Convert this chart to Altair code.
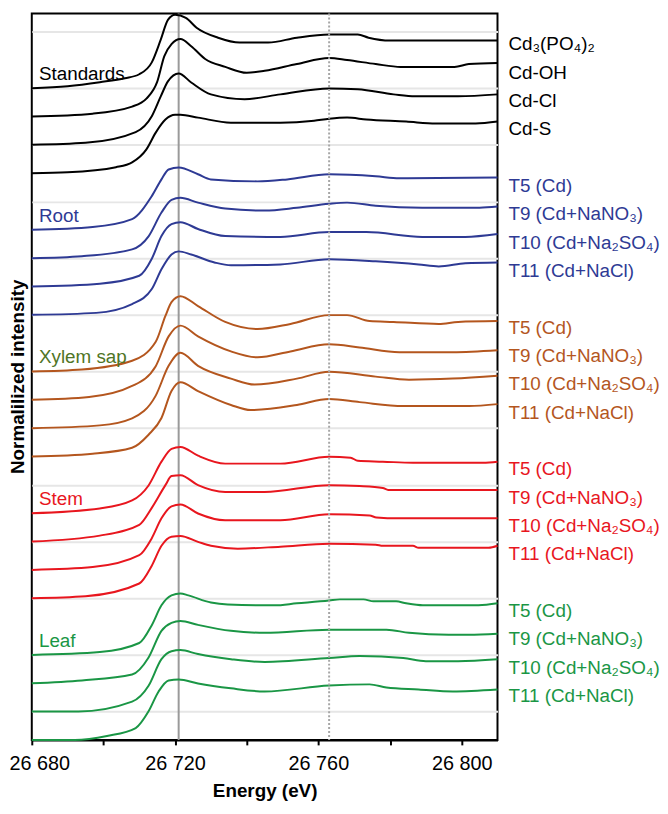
import altair as alt
import pandas as pd

FONT = "Liberation Sans, Arial, DejaVu Sans, sans-serif"

groups = ["Standards", "Root", "Xylem sap", "Stem", "Leaf"]
group_colors = ["#000000", "#2e3a94", "#b4561e", "#e8161e", "#1a9645"]
group_label_colors = ["#000000", "#2e3a94", "#4f7526", "#e8161e", "#1a9645"]

# ---- Standards ----
po4_e = [26680, 26690, 26699, 26706, 26710, 26713.5, 26716, 26718, 26720, 26723, 26726, 26732, 26738, 26746, 26754, 26763, 26771, 26774, 26780, 26810]
po4_v = [0, 0.07, 0.21, 0.35, 0.49, 0.91, 1.71, 2.41, 2.59, 2.48, 2.13, 1.78, 1.61, 1.61, 1.78, 1.89, 1.89, 1.78, 1.68, 1.68]
oh_e = [26680, 26697, 26708, 26712, 26715, 26717, 26719, 26721.5, 26724.5, 26728.4, 26734, 26740, 26745, 26754, 26763, 26768, 26776, 26783, 26798, 26802, 26810]
oh_v = [0, 0.10, 0.35, 0.63, 1.22, 2.13, 2.55, 2.73, 2.48, 2.03, 1.75, 1.54, 1.61, 1.85, 2.06, 1.99, 1.85, 1.75, 1.75, 1.85, 1.89]
cl_e = [26680, 26695, 26709, 26713.5, 26716, 26718, 26721, 26724.5, 26730, 26739.4, 26749.4, 26763, 26771, 26781, 26787, 26799, 26810]
cl_v = [0, 0.07, 0.45, 1.01, 1.71, 2.24, 2.52, 2.20, 1.78, 1.61, 1.78, 1.99, 1.96, 1.78, 1.71, 1.71, 1.78]
s_e = [26680, 26690, 26703.5, 26708, 26712, 26714.6, 26717.3, 26720, 26721.5, 26726.4, 26735.6, 26749.4, 26758.8, 26763, 26768, 26773.4, 26784.5, 26792.8, 26803.9, 26810]
s_v = [0, 0.03, 0.21, 0.38, 0.84, 1.43, 1.89, 2.06, 2.06, 1.96, 1.78, 1.78, 1.85, 1.92, 1.96, 1.89, 1.82, 1.75, 1.75, 1.82]

# ---- Root ----
root5_e = [26680, 26697, 26708, 26713.5, 26716.2, 26718.2, 26721, 26726.4, 26730, 26743, 26751.3, 26763, 26776, 26782.6, 26810]
root5_v = [0, 0.10, 0.38, 1.19, 1.78, 2.13, 2.20, 1.96, 1.78, 1.71, 1.78, 1.96, 1.89, 1.82, 1.85]
root9_e = [26680, 26694, 26708, 26712.6, 26716.2, 26719, 26721.5, 26726.4, 26734, 26745, 26754, 26763, 26768, 26776, 26789, 26805, 26810]
root9_v = [0, 0.07, 0.31, 0.77, 1.61, 2.06, 2.13, 1.96, 1.75, 1.68, 1.78, 1.92, 1.96, 1.85, 1.78, 1.78, 1.82]
root10_e = [26680, 26699, 26710, 26713.5, 26716.2, 26719, 26721.5, 26726.4, 26734, 26749.4, 26763, 26773.4, 26789, 26801, 26810]
root10_v = [0, 0.10, 0.38, 0.98, 1.78, 2.20, 2.27, 2.03, 1.78, 1.75, 1.92, 1.92, 1.75, 1.75, 1.85]
root11_e = [26680, 26698, 26708, 26713.5, 26716.2, 26719, 26721, 26724.5, 26731, 26735.6, 26749.4, 26763, 26776, 26788, 26793.6, 26801, 26810]
root11_v = [0, 0.07, 0.38, 0.91, 1.61, 2.13, 2.24, 2.13, 1.85, 1.75, 1.78, 1.96, 1.89, 1.78, 1.71, 1.82, 1.85]

# ---- Xylem sap ----
xyl5_e = [26680, 26694, 26708, 26714.6, 26717.3, 26719, 26721.5, 26726.4, 26734, 26743, 26752.2, 26763, 26768, 26774.3, 26781, 26793.6, 26799, 26810]
xyl5_v = [0, 0.07, 0.38, 1.05, 1.96, 2.45, 2.66, 2.31, 1.75, 1.50, 1.68, 1.99, 1.99, 1.78, 1.75, 1.68, 1.75, 1.78]
xyl9_e = [26680, 26696, 26708, 26714.6, 26718.2, 26721.5, 26726.4, 26735.6, 26743, 26752.2, 26763, 26771.5, 26782.6, 26797.5, 26810]
xyl9_v = [0, 0.10, 0.49, 1.19, 2.24, 2.62, 2.24, 1.71, 1.50, 1.71, 1.96, 1.85, 1.68, 1.68, 1.75]
xyl10_e = [26680, 26699, 26708, 26714.6, 26718.2, 26721.5, 26726.4, 26735.6, 26742.2, 26754, 26763, 26776, 26785.3, 26797.5, 26810]
xyl10_v = [0, 0.10, 0.35, 1.15, 2.20, 2.66, 2.20, 1.75, 1.54, 1.75, 1.99, 1.82, 1.71, 1.75, 1.85]
xyl11_e = [26680, 26697, 26708, 26712.6, 26716.2, 26719, 26721.5, 26726.4, 26735.6, 26741.1, 26754, 26763, 26771.5, 26783.7, 26802, 26810]
xyl11_v = [0, 0.10, 0.31, 0.77, 1.36, 2.31, 2.62, 2.31, 1.82, 1.64, 1.82, 2.03, 1.92, 1.78, 1.78, 1.85]

# ---- Stem ----
stem5_e = [26680, 26699, 26708, 26712.6, 26716.2, 26719, 26721.5, 26726.4, 26734, 26749.4, 26763, 26769, 26771, 26778, 26786.4, 26806, 26810]
stem5_v = [0, 0.17, 0.45, 0.98, 1.82, 2.27, 2.34, 2.03, 1.75, 1.75, 1.99, 1.96, 1.85, 1.82, 1.78, 1.78, 1.82]
stem9_e = [26680, 26699, 26710, 26713.5, 26717.3, 26719, 26721.5, 26726.4, 26734, 26745, 26763, 26771.5, 26778, 26779.5, 26810]
stem9_v = [0, 0.21, 0.59, 1.19, 1.99, 2.31, 2.34, 1.99, 1.75, 1.75, 1.99, 1.96, 1.89, 1.82, 1.82]
stem10_e = [26680, 26697, 26710, 26713.5, 26716.2, 26719, 26721.5, 26726.4, 26734, 26749.4, 26763, 26774.3, 26776.2, 26782.3, 26810]
stem10_v = [0, 0.10, 0.52, 1.12, 1.82, 2.24, 2.31, 1.99, 1.75, 1.75, 1.96, 1.92, 1.85, 1.82, 1.82]
stem11_e = [26680, 26695, 26710, 26713.5, 26716.2, 26719, 26721.5, 26726.4, 26730, 26737.5, 26749.4, 26763, 26776, 26778, 26786.4, 26788, 26807.5, 26810]
stem11_v = [0, 0.07, 0.52, 1.15, 1.85, 2.17, 2.20, 1.99, 1.85, 1.75, 1.82, 1.92, 1.89, 1.85, 1.85, 1.78, 1.78, 1.85]

# ---- Leaf ----
leaf5_e = [26680, 26699, 26710, 26713.5, 26716.2, 26719, 26721.5, 26723.7, 26730, 26734.7, 26747.7, 26754, 26763, 26766, 26772.6, 26775.4, 26781.7, 26784.5, 26789.2, 26804.7, 26810]
leaf5_v = [0, 0.10, 0.42, 1.05, 1.75, 2.10, 2.17, 2.10, 1.85, 1.78, 1.75, 1.82, 1.92, 1.96, 1.96, 1.89, 1.89, 1.82, 1.75, 1.75, 1.82]
leaf9_e = [26680, 26694, 26708, 26712.6, 26716.2, 26719, 26721.5, 26726.4, 26735.6, 26745, 26763, 26779, 26785.3, 26796.4, 26802, 26810]
leaf9_v = [0, 0.10, 0.31, 0.91, 1.85, 2.13, 2.20, 2.06, 1.85, 1.78, 1.89, 1.89, 1.78, 1.71, 1.71, 1.75]
leaf10_e = [26680, 26693, 26708, 26712.6, 26716.2, 26719, 26721.5, 26726.4, 26735.6, 26745, 26763, 26771.5, 26783.7, 26790, 26799, 26810]
leaf10_v = [0, 0, 0.35, 0.91, 1.85, 2.13, 2.17, 2.03, 1.85, 1.75, 1.89, 1.96, 1.89, 1.78, 1.78, 1.85]
leaf11_e = [26680, 26692, 26701, 26709, 26712.6, 26715.4, 26718.2, 26721, 26726.4, 26735.6, 26745, 26763, 26774.3, 26779, 26788, 26797.5, 26810]
leaf11_v = [0, 0, 0.14, 0.42, 1.01, 1.71, 2.10, 2.13, 1.99, 1.82, 1.71, 1.92, 1.96, 1.85, 1.78, 1.71, 1.78]

sample_names = ["T5 (Cd)", "T9 (Cd+NaNO\u2083)", "T10 (Cd+Na\u2082SO\u2084)", "T11 (Cd+NaCl)"]
standard_names = ["Cd\u2083(PO\u2084)\u2082", "Cd-OH", "Cd-Cl", "Cd-S"]

curves = [
    ("Standards", standard_names[0], po4_e, po4_v),
    ("Standards", standard_names[1], oh_e, oh_v),
    ("Standards", standard_names[2], cl_e, cl_v),
    ("Standards", standard_names[3], s_e, s_v),
    ("Root", sample_names[0], root5_e, root5_v),
    ("Root", sample_names[1], root9_e, root9_v),
    ("Root", sample_names[2], root10_e, root10_v),
    ("Root", sample_names[3], root11_e, root11_v),
    ("Xylem sap", sample_names[0], xyl5_e, xyl5_v),
    ("Xylem sap", sample_names[1], xyl9_e, xyl9_v),
    ("Xylem sap", sample_names[2], xyl10_e, xyl10_v),
    ("Xylem sap", sample_names[3], xyl11_e, xyl11_v),
    ("Stem", sample_names[0], stem5_e, stem5_v),
    ("Stem", sample_names[1], stem9_e, stem9_v),
    ("Stem", sample_names[2], stem10_e, stem10_v),
    ("Stem", sample_names[3], stem11_e, stem11_v),
    ("Leaf", sample_names[0], leaf5_e, leaf5_v),
    ("Leaf", sample_names[1], leaf9_e, leaf9_v),
    ("Leaf", sample_names[2], leaf10_e, leaf10_v),
    ("Leaf", sample_names[3], leaf11_e, leaf11_v),
]

rows, labels, glabels = [], [], []
for k, (g, name, e, v) in enumerate(curves):
    gi = groups.index(g)
    i = k - 4 * gi
    off = (4 - gi) * 5 + (3 - i)
    for ee, vv in zip(e, v):
        rows.append({"energy": ee, "intensity": vv + off, "curve": f"{g}|{name}", "col": group_colors[gi]})
    labels.append({"energy": 26810, "y": off + 1.55, "text": name, "col": group_colors[gi]})
for gi, g in enumerate(groups):
    glabels.append({"energy": 26682, "y": (4 - gi) * 5 + 3.5, "text": g, "col": group_label_colors[gi]})

df = pd.DataFrame(rows)
lab_df = pd.DataFrame(labels)
glab_df = pd.DataFrame(glabels)

x_scale = alt.Scale(domain=[26680, 26810], nice=False, zero=False)
y_scale = alt.Scale(domain=[0, 25.63], nice=False, zero=False)

x_axis = alt.Axis(
    values=list(range(26680, 26811, 20)),
    labelExpr="datum.value % 40 == 0 ? replace(format(datum.value, ','), ',', ' ') : ''",
    labelFont=FONT, labelFontSize=20, labelColor="black", labelOverlap=False,
    labelFlush=False, labelPadding=9,
    labelAlign={"condition": {"test": "datum.value == 26680", "value": "left"}, "value": "center"},
    labelOffset={"condition": {"test": "datum.value == 26680", "value": -23}, "value": 0},
    tickSize=5, tickWidth=2, tickColor="black",
    domainColor="black", domainWidth=2, grid=False,
    title="Energy (eV)", titleFont=FONT, titleFontSize=19, titleFontWeight="bold",
    titleColor="black", titleBaseline="middle", titleY=51,
)
y_axis = alt.Axis(
    values=list(range(1, 26)), labels=False, ticks=False, domain=False,
    grid=True, gridColor="#e6e6e6", gridWidth=2,
    title="Normalilized intensity", titleFont=FONT, titleFontSize=19, titleFontWeight="bold",
    titleColor="black", titleAngle=270, titleAlign="center", titleBaseline="middle",
    titleX=-14, titleY=366,
)

grid_layer = alt.Chart(df).mark_line(opacity=0).encode(
    x=alt.X("energy:Q", scale=x_scale, axis=x_axis),
    y=alt.Y("intensity:Q", scale=y_scale, axis=y_axis),
)

solid_rule = alt.Chart(pd.DataFrame({"energy": [26721]})).mark_rule(
    color="#9a9a9a", strokeWidth=2
).encode(x=alt.X("energy:Q", scale=x_scale))

dotted_rule = alt.Chart(pd.DataFrame({"energy": [26763]})).mark_rule(
    color="#a6a6a6", strokeWidth=2, strokeDash=[2, 2]
).encode(x=alt.X("energy:Q", scale=x_scale))

lines = alt.Chart(df).mark_line(strokeWidth=2, interpolate="monotone").encode(
    x=alt.X("energy:Q", scale=x_scale),
    y=alt.Y("intensity:Q", scale=y_scale),
    detail="curve:N",
    color=alt.Color("col:N", scale=None),
)

right_labels = alt.Chart(lab_df).mark_text(
    align="left", baseline="middle", dx=11, font=FONT, fontSize=19
).encode(
    x=alt.X("energy:Q", scale=x_scale),
    y=alt.Y("y:Q", scale=y_scale),
    text="text:N",
    color=alt.Color("col:N", scale=None),
)

group_labels = alt.Chart(glab_df).mark_text(
    align="left", baseline="middle", font=FONT, fontSize=19
).encode(
    x=alt.X("energy:Q", scale=x_scale),
    y=alt.Y("y:Q", scale=y_scale),
    text="text:N",
    color=alt.Color("col:N", scale=None),
)

chart = alt.layer(
    grid_layer, solid_rule, lines, dotted_rule, right_labels, group_labels
).properties(
    width=470, height=733,
    padding={"left": 24, "top": 2, "right": 164, "bottom": 61},
    autosize=alt.AutoSizeParams(type="none"),
).configure(
    background="white",
    view=alt.ViewConfig(stroke="black", strokeWidth=2),
)

chart.save("out.html", embed_options={"renderer": "svg", "actions": False})
